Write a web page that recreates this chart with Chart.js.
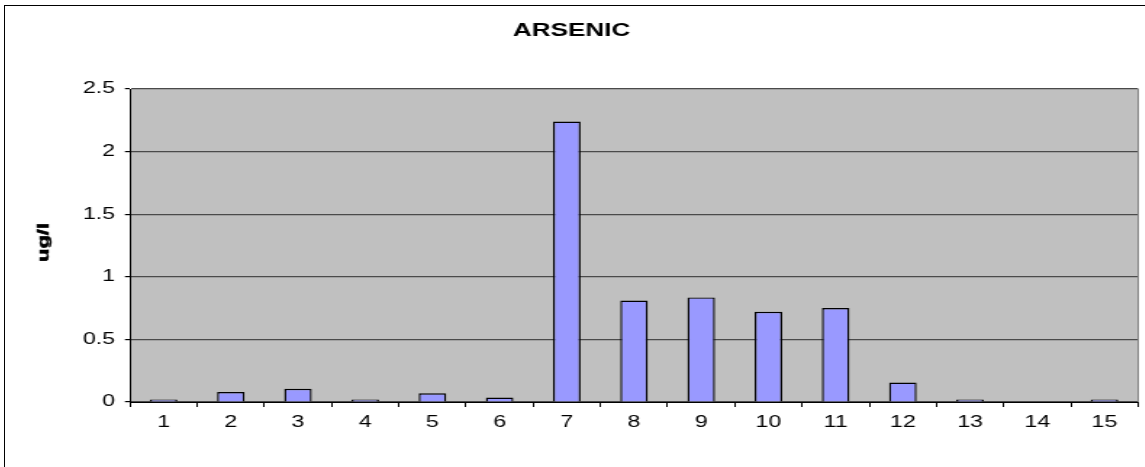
<!DOCTYPE html>
<html>
<head>
<meta charset="utf-8">
<title>ARSENIC</title>
<script src="https://cdn.jsdelivr.net/npm/chart.js@4.4.1/dist/chart.umd.min.js"></script>
<style>
  html, body { margin: 0; padding: 0; background: #fff; overflow: hidden; }
  body { width: 1145px; height: 467px; position: relative; }
  #frame {
    position: absolute; left: 4px; top: 5px;
    width: 1180px; height: 480px;
    border-left: 1px solid #000; border-top: 1px solid #000;
  }
  /* the chart is laid out narrow and widened horizontally */
  #wrap {
    position: absolute; left: 5px; top: 6px;
    width: 800px; height: 461px;
    transform: scaleX(1.45); transform-origin: 0 0;
  }
</style>
</head>
<body>
<div id="frame"></div>
<div id="wrap"><canvas id="chart"></canvas></div>
<script>
// sampling points along the x axis
const categories = ['1', '2', '3', '4', '5', '6', '7', '8', '9', '10', '11', '12', '13', '14', '15'];
// arsenic concentration, ug/l
const arsenicValues = [0.02, 0.08, 0.105, 0.02, 0.07, 0.035, 2.24, 0.81, 0.835, 0.72, 0.75, 0.155, 0.02, 0, 0.02];
// value axis ticks
const yTickValues = [0, 0.5, 1, 1.5, 2, 2.5];
const yTickLabels = ['0', '0.5', '1', '1.5', '2', '2.5'];
const chartTitle = 'ARSENIC';
const yAxisTitle = 'ug/l';

const FONT = "'Liberation Sans', Arial, sans-serif";
Chart.defaults.font.family = FONT;
Chart.defaults.color = '#000';

// grey plot area with a grey right edge
const plotBackground = {
  id: 'plotBackground',
  beforeDraw(chart) {
    const { ctx, chartArea: a } = chart;
    ctx.save();
    ctx.fillStyle = '#C0C0C0';
    ctx.fillRect(a.left, a.top, a.right - a.left, a.bottom - a.top);
    ctx.restore();
  },
  afterDraw(chart) {
    const { ctx, chartArea: a } = chart;
    ctx.save();
    ctx.strokeStyle = '#808080';
    ctx.lineWidth = 1;
    ctx.beginPath();
    ctx.moveTo(Math.round(a.right) + 0.5, a.top);
    ctx.lineTo(Math.round(a.right) + 0.5, a.bottom);
    ctx.stroke();
    ctx.restore();
  }
};

// rotated, compressed value-axis title
const yTitle = {
  id: 'yTitle',
  afterDraw(chart) {
    const { ctx, chartArea: a } = chart;
    ctx.save();
    ctx.translate(27, (a.top + a.bottom) / 2 - 3);
    ctx.rotate(-Math.PI / 2);
    ctx.scale(1, 0.46);
    ctx.font = 'bold 22px ' + FONT;
    ctx.fillStyle = '#000';
    ctx.strokeStyle = '#000';
    ctx.lineWidth = 0.8;
    ctx.textAlign = 'center';
    ctx.textBaseline = 'middle';
    ctx.fillText(yAxisTitle, 0, 0);
    ctx.strokeText(yAxisTitle, 0, 0);
    ctx.restore();
  }
};

new Chart(document.getElementById('chart'), {
  type: 'bar',
  data: {
    labels: categories,
    datasets: [{
      data: arsenicValues,
      backgroundColor: '#9999FF',
      borderColor: '#000',
      borderWidth: 1.4,
      barPercentage: 0.41,
      categoryPercentage: 1
    }]
  },
  options: {
    responsive: true,
    maintainAspectRatio: false,
    animation: false,
    layout: { padding: { left: 0, right: 18.6, top: 0, bottom: 0 } },
    plugins: {
      legend: { display: false },
      tooltip: { enabled: false },
      title: {
        display: true,
        text: chartTitle,
        color: '#000',
        font: { family: FONT, size: 18, weight: 'bold' },
        padding: { top: 14.5, bottom: 46.9 }
      }
    },
    scales: {
      x: {
        offset: true,
        grid: {
          offset: true,
          drawOnChartArea: false,
          drawTicks: true,
          tickLength: 5,
          color: '#000'
        },
        border: { display: true, color: '#000', width: 1 },
        ticks: {
          color: '#000',
          font: { family: FONT, size: 16 },
          padding: 6,
          maxRotation: 0,
          autoSkip: false
        },
        afterFit(scale) { scale.height = 65; }
      },
      y: {
        min: 0,
        max: 2.5,
        afterBuildTicks(scale) { scale.ticks = yTickValues.map(v => ({ value: v })); },
        grid: {
          color: '#4a4a4a',
          tickColor: '#000',
          tickLength: 3.5,
          lineWidth: 1.2
        },
        border: { display: true, color: '#000', width: 1 },
        ticks: {
          color: '#000',
          font: { family: FONT, size: 16 },
          padding: 6.8,
          callback(value) {
            const i = yTickValues.indexOf(value);
            return i >= 0 ? yTickLabels[i] : String(value);
          }
        },
        afterFit(scale) { scale.width = 86.2; }
      }
    }
  },
  plugins: [plotBackground, yTitle]
});
</script>
</body>
</html>
